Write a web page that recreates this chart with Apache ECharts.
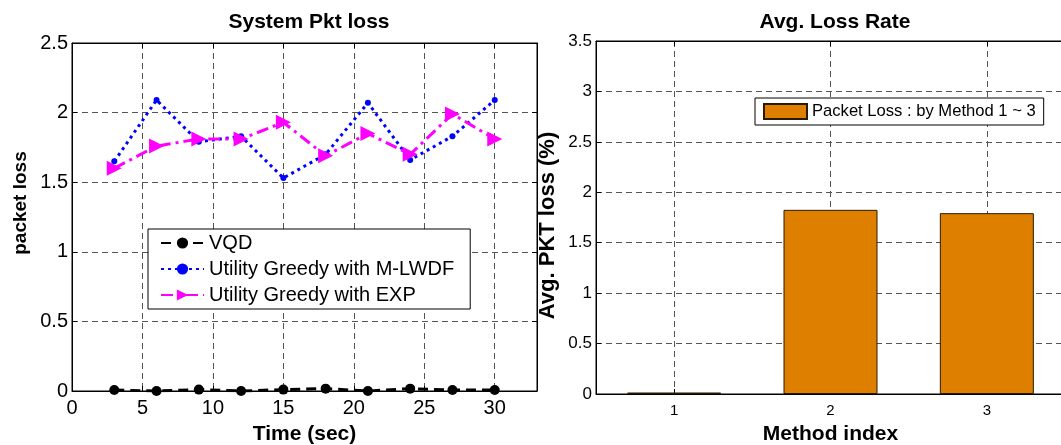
<!DOCTYPE html>
<html><head><meta charset="utf-8">
<script src="https://cdn.jsdelivr.net/npm/echarts@6/dist/echarts.min.js"></script>
<style>html,body{margin:0;padding:0;background:#fff}#c{width:1061px;height:445px}</style>
</head><body><div id="c"></div>
<script>
var timeSec = [3, 6, 9, 12, 15, 18, 21, 24, 27, 30];
var vqd = [0.007, 0, 0.01, 0, 0.01, 0.017, 0, 0.017, 0.007, 0.007];
var mlwdf = [1.65, 2.09, 1.79, 1.83, 1.53, 1.70, 2.07, 1.66, 1.83, 2.09];
var expSeries = [1.60, 1.76, 1.81, 1.81, 1.93, 1.69, 1.85, 1.70, 1.99, 1.81];
var methods = [1, 2, 3];
var avgLoss = [0.015, 1.826, 1.793];
var seriesNames = ['VQD', 'Utility Greedy with M-LWDF', 'Utility Greedy with EXP'];
var barName = 'Packet Loss : by Method 1 ~ 3';

function pairs(xs, ys) { return xs.map(function (x, i) { return [x, ys[i]]; }); }

var FONT = '"Liberation Sans", Arial, sans-serif';
var gridLine = { show: true, lineStyle: { color: '#555', type: [6, 4], width: 1 } };
var axLine = { show: true, onZero: false, lineStyle: { color: '#000', width: 1 } };
var tick = { show: true, inside: true, length: 5, lineStyle: { color: '#000' } };
function bold(fs) { return { fontFamily: FONT, fontWeight: 'bold', fontSize: fs, color: '#000' }; }

var chart = echarts.init(document.getElementById('c'), null, { renderer: 'canvas' });
chart.setOption({
  animation: false,
  backgroundColor: '#fff',
  textStyle: { fontFamily: FONT },
  title: [
    { text: 'System Pkt loss', left: 304, top: 7, textAlign: 'center', textStyle: bold(21) },
    { text: 'Avg. Loss Rate', left: 830, top: 7, textAlign: 'center', textStyle: bold(21) }
  ],
  grid: [
    { left: 72, top: 43, width: 465, height: 348, show: true, borderColor: '#000', borderWidth: 1,
      backgroundColor: '#fff', containLabel: false, outerBoundsMode: 'none' },
    { left: 596, top: 41, width: 469, height: 353, show: true, borderColor: '#000', borderWidth: 1,
      backgroundColor: '#fff', containLabel: false, outerBoundsMode: 'none' }
  ],
  xAxis: [
    { type: 'value', gridIndex: 0, min: 0, max: 33, interval: 5,
      name: 'Time (sec)', nameLocation: 'middle', nameGap: 33, nameTextStyle: bold(21),
      axisLine: axLine, axisTick: tick,
      axisLabel: { showMaxLabel: false, color: '#000', fontSize: 20, margin: 7, fontFamily: FONT },
      splitLine: Object.assign({ showMaxLine: false, showMinLine: false }, gridLine) },
    { type: 'value', gridIndex: 0, position: 'top', min: 0, max: 33, interval: 5,
      axisLine: axLine, axisTick: tick, axisLabel: { show: false }, splitLine: { show: false } },
    { type: 'value', gridIndex: 1, min: 0.5, max: 3.5,
      name: 'Method index', nameLocation: 'middle', nameGap: 30, nameTextStyle: bold(21),
      axisLine: axLine, axisTick: Object.assign({ customValues: methods }, tick),
      axisLabel: { customValues: methods, color: '#000', fontSize: 15, margin: 9, fontFamily: FONT },
      splitLine: gridLine },
    { type: 'value', gridIndex: 1, position: 'top', min: 0.5, max: 3.5,
      axisLine: axLine, axisTick: Object.assign({ customValues: methods }, tick),
      axisLabel: { show: false }, splitLine: { show: false } }
  ],
  yAxis: [
    { type: 'value', gridIndex: 0, min: 0, max: 2.5, interval: 0.5,
      name: 'packet loss', nameLocation: 'middle', nameGap: 42,
      nameTextStyle: Object.assign({ padding: [0, 0, 0, 28] }, bold(19)),
      axisLine: axLine, axisTick: tick,
      axisLabel: { color: '#000', fontSize: 20, margin: 4, fontFamily: FONT },
      splitLine: Object.assign({ showMaxLine: false, showMinLine: false }, gridLine) },
    { type: 'value', gridIndex: 0, position: 'right', min: 0, max: 2.5, interval: 0.5,
      axisLine: axLine, axisTick: tick, axisLabel: { show: false }, splitLine: { show: false } },
    { type: 'value', gridIndex: 1, min: 0, max: 3.5, interval: 0.5,
      name: 'Avg. PKT loss (%)', nameLocation: 'middle', nameGap: 37,
      nameTextStyle: Object.assign({ padding: [0, 16, 0, 0] }, bold(22)),
      axisLine: axLine, axisTick: tick,
      axisLabel: { color: '#000', fontSize: 17, margin: 4, fontFamily: FONT },
      splitLine: Object.assign({ showMaxLine: false, showMinLine: false }, gridLine) }
  ],
  legend: [
    { data: seriesNames, orient: 'vertical', left: 148, top: 229, backgroundColor: '#fff',
      borderColor: '#000', borderWidth: 1, borderRadius: 0, padding: [4, 16, 4, 12], itemGap: 6,
      itemWidth: 43, itemHeight: 14, textStyle: { fontFamily: FONT, fontSize: 20, color: '#000' } },
    { data: [{ name: barName, icon: 'rect' }], left: 755, top: 98, backgroundColor: '#fff', borderColor: '#000', borderWidth: 1,
      borderRadius: 0, padding: [5, 8, 5, 8], itemWidth: 43, itemHeight: 15, itemGap: 5,
      textStyle: { fontFamily: FONT, fontSize: 16.6, color: '#000' } }
  ],
  series: [
    { name: seriesNames[0], type: 'line', xAxisIndex: 0, yAxisIndex: 0, data: pairs(timeSec, vqd),
      symbol: 'circle', symbolSize: 10, lineStyle: { color: '#000', width: 3, type: [10, 6] },
      itemStyle: { color: '#000' } },
    { name: seriesNames[1], type: 'line', xAxisIndex: 0, yAxisIndex: 0, data: pairs(timeSec, mlwdf),
      symbol: 'circle', symbolSize: 6, lineStyle: { color: '#0000ff', width: 3, type: [3, 4] },
      itemStyle: { color: '#0000ff' } },
    { name: seriesNames[2], type: 'line', xAxisIndex: 0, yAxisIndex: 0, data: pairs(timeSec, expSeries),
      symbol: 'triangle', symbolRotate: -90, symbolSize: 15, lineStyle: { color: '#ff00ff', width: 3, type: [12, 5, 3, 5] },
      itemStyle: { color: '#ff00ff' } },
    { name: barName, type: 'bar', xAxisIndex: 2, yAxisIndex: 2, data: pairs(methods, avgLoss),
      barWidth: 94, itemStyle: { color: '#df7f00', borderColor: '#2a1a00', borderWidth: 1 } }
  ]
});
</script></body></html>
